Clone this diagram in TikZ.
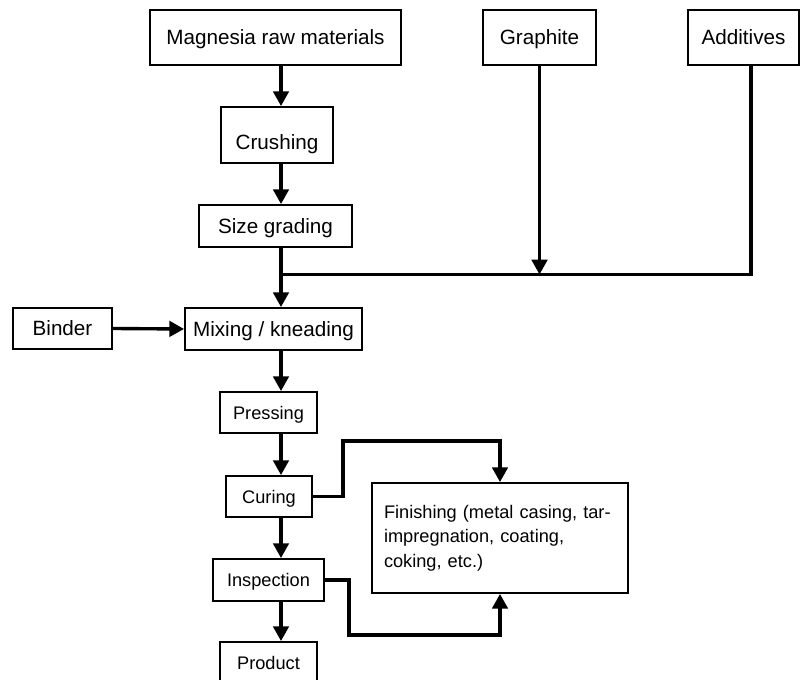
\documentclass[tikz,border=0pt]{standalone}
\usepackage{fontspec}
\setmainfont{Liberation Sans}
\usetikzlibrary{arrows.meta, calc, positioning}
\newcommand{\bigfont}{\fontsize{14.7}{17}\selectfont}
\newcommand{\smallfont}{\fontsize{12.95}{17.4}\selectfont}
\tikzset{
	box/.style 2 args={draw, line width=1.3pt, inner sep=0pt, minimum width=#1*0.71132pt, minimum height=#2*0.71132pt},
	big/.style={font=\bigfont, text height=10.5pt, text depth=0pt},
	small/.style={font=\smallfont, text height=9.3pt, text depth=0pt},
	flow/.style={line width=2.4pt},
	arr/.style={flow, -{Triangle[width=11pt, length=10.5pt]}},
}

\begin{document}
\begin{tikzpicture}[x=0.71132pt, y=-0.71132pt]
			\useasboundingbox (0,0) rectangle (800,680);
			
			% Inputs
			\node[box={251}{55}, big] (mag) at (275.5,37.5) {Magnesia raw materials};
			\node[box={113}{55}, big] (graph) at (539.5,37.5) {Graphite};
			\node[box={111}{55}, big] (addit) at (743.5,37.5) {Additives};
			\node[box={99}{41}, big] (binder) at (62.5,328.5) {Binder};
			
			% Process steps
			\node[box={112}{56}, big, text height=21pt] (crush) at (277,135) {Crushing};
			\node[box={153}{42}, big] (size) at (275.5,226) {Size grading};
			\node[box={177}{42}, big] (mix) at (273.5,329) {Mixing / kneading};
			\node[box={97}{41}, small] (press) at (268.5,412.5) {Pressing};
			\node[box={86}{41}, small] (cure) at (269,496.5) {Curing};
			\node[box={111}{42}, small] (insp) at (268.5,580) {Inspection};
			\node[box={97}{42}, small] (prod) at (268.5,663) {Product};
			\node[box={256}{110}, font=\smallfont, text width=232*0.71132pt, align=left] (finish) at (500,538)
				{Finishing (metal casing, tar-\\impregnation, coating,\\coking, etc.)};
			
			\coordinate (spine) at (281,0);
			\coordinate (join) at (281,274.5);
			
			% Main line
			\foreach \a/\b in {mag/crush, crush/size, size/mix, mix/press, press/cure, cure/insp, insp/prod}
			{
				\draw[arr] (\a.south -| spine) -- (\b.north -| spine);
			}
			
			% Feeds
			\draw[flow] ($(addit.south)+(7.5,0)$) |- (join);
			\draw[arr] (graph.south) -- (graph.south |- join);
			\draw[arr] (binder.east) -- (mix.west);
			
			% Finishing
			\draw[arr] (cure.east) -- ++(30,0) |- (500,441) -- (finish.north);
			\draw[arr] (insp.east) -- ++(24,0) |- (500,635) -- (finish.south);
			
		\end{tikzpicture}
\end{document}
